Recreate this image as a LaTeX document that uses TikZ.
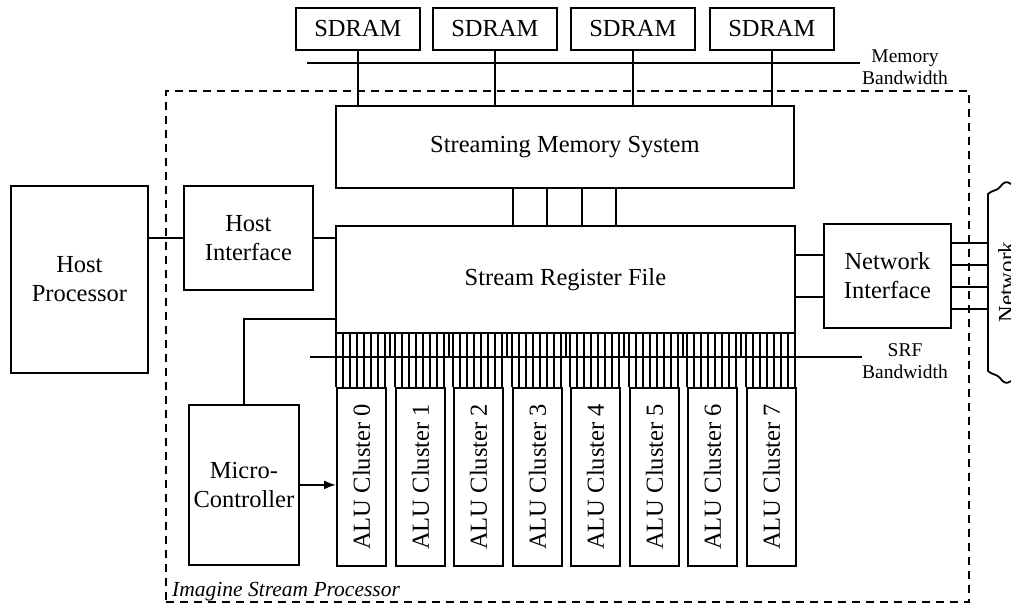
\documentclass[tikz,border=0pt]{standalone}
\usepackage{fontspec}
\setmainfont{Liberation Serif}
\usetikzlibrary{arrows.meta}
\begin{document}
\begin{tikzpicture}[x=1pt,y=-1pt,
  box/.style={draw, line width=1.8pt, inner sep=0pt, align=center,
    font=\fontsize{24.5}{29}\selectfont, anchor=north west},
  wire/.style={line width=1.8pt},
  barline/.style={line width=1.7pt},
  lbl/.style={font=\fontsize{19.5}{22}\selectfont, align=center, inner sep=0pt},
  region/.style={draw, line width=1.7pt, dash pattern=on 8pt off 6pt, anchor=north west, inner sep=0pt},
]
\useasboundingbox (0,0) rectangle (1011,606);

% dashed processor region
\node[region, minimum width=803pt, minimum height=511pt] (isp) at (165,90) {};
\node[font=\fontsize{21.5}{24}\selectfont\itshape, anchor=base west, inner sep=0pt] (ispt) at (172,596) {Imagine Stream Processor};

% SDRAM
\node[box, minimum width=124pt, minimum height=42pt] (sd1) at (295,7) {SDRAM};
\node[box, minimum width=124pt, minimum height=42pt] (sd2) at (432,7) {SDRAM};
\node[box, minimum width=124pt, minimum height=42pt] (sd3) at (570,7) {SDRAM};
\node[box, minimum width=124pt, minimum height=42pt] (sd4) at (709,7) {SDRAM};

% main blocks
\node[box, minimum width=458pt, minimum height=82pt] (sms) at (335,105) {Streaming Memory System};
\node[box, minimum width=459pt, minimum height=107pt] (srf) at (335,225) {Stream Register File};
\node[box, minimum width=127pt, minimum height=104pt] (ni) at (823,223) {Network\\Interface};
\node[box, minimum width=137pt, minimum height=187pt] (hp) at (10,185) {Host\\Processor};
\node[box, minimum width=129pt, minimum height=104pt] (hi) at (183,185) {Host\\Interface};
\node[box, minimum width=110pt, minimum height=160pt] (mc) at (188,404) {Micro-\\Controller};

% memory bus
\coordinate (mb1) at (307,63);
\coordinate (mb2) at (860,63);
\draw[wire] (mb1) -- (mb2);
\foreach \s in {sd1,sd2,sd3,sd4}
  \draw[wire] (\s.south) -- (\s.south |- sms.north);
\node[lbl] (mbl) at (905,67) {Memory\\Bandwidth};

% SMS to SRF
\foreach \x in {513,547,582,616}
  \draw[wire] (sms.south -| \x,0) -- (srf.north -| \x,0);

% ALU clusters and SRF bus
\foreach \i in {0,...,7} {
  \pgfmathsetmacro\L{336+round(58.5*\i)}
  \node[box, minimum width=49pt, minimum height=178pt] (c\i) at (\L,387) {};
  \node[rotate=90, font=\fontsize{24.5}{29}\selectfont, inner sep=0pt] (c\i t) at (c\i.center) {ALU Cluster \i};
  \foreach \k in {0,...,7}
    \draw[barline] (\L+7*\k,332) -- (\L+7*\k,387);
  \ifnum\i<7
    \draw[barline] (\L+54,332) -- (\L+54,357);
  \fi
}
\coordinate (sb1) at (310,357);
\coordinate (sb2) at (862,357);
\draw[wire] (sb1) -- (sb2);
\node[lbl] (sbl) at (905,361) {SRF\\Bandwidth};

% host connections
\draw[wire] (hi.west) -- (hi.west -| hp.east);
\draw[wire] (hi.east) -- (hi.east -| srf.west);

% micro-controller
\draw[wire] (mc.north) |- ([yshift=15pt]srf.south west);
\draw[wire, -{Latex[length=12pt,width=9pt]}] (mc.east) -- (mc.east -| c0.west);

% network interface
\draw[wire] ([yshift=21pt]ni.west) -- ([yshift=21pt]ni.west -| srf.east);
\draw[wire] ([yshift=-21pt]ni.west) -- ([yshift=-21pt]ni.west -| srf.east);
\coordinate (netT) at (988,194);
\coordinate (netB) at (988,371);
\foreach \d in {33,11,-11,-33}
  \draw[wire] ([yshift=\d pt]ni.east) -- ([yshift=\d pt]ni.east -| netT);
\draw[wire] (1011,184) .. controls (1006,180) and (1003,183) .. (1000,187)
  .. controls (997,191) and (992,190) .. (netT) -- (netB)
  .. controls (992,375) and (997,374) .. (1000,378)
  .. controls (1003,382) and (1006,385) .. (1011,381);
\node[rotate=90, anchor=base, font=\fontsize{23}{28}\selectfont, inner sep=0pt] (net) at (1014,282) {Network};
\end{tikzpicture}
\end{document}
